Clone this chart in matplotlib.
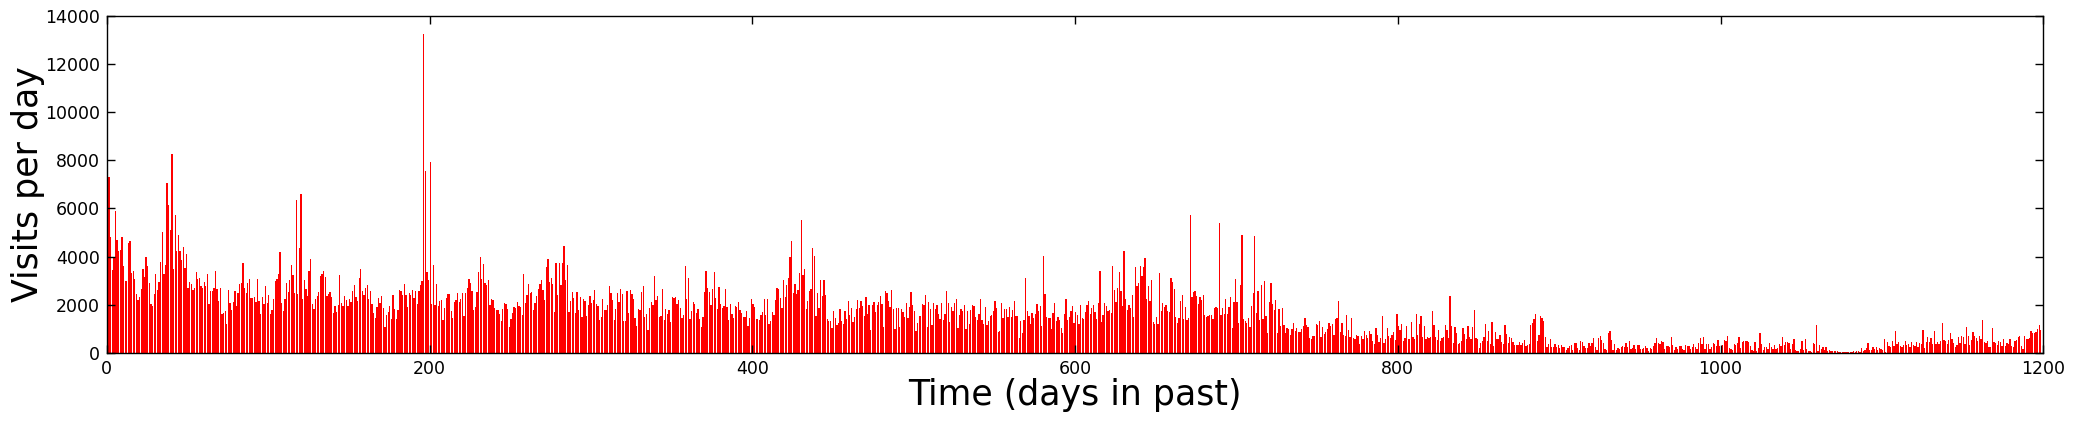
import numpy as np
import matplotlib
matplotlib.use("Agg")
import matplotlib.pyplot as plt

# ============================================================================
# Visits per day in blocks (day 0 = today)
# ============================================================================
visits_0000 = [4230, 7300, 4800, 3450, 4000, 5900, 4680, 4230, 4290, 4800,
               3600, 3000, 3000, 4570, 4640, 3300, 3400, 3070, 2440, 2200,
               2300, 2650, 3470, 3140, 3970, 3600, 2890, 2020, 1950, 2440,
               3270, 2600, 2930, 3760, 5020, 3270, 3640, 7060, 6150, 5090,
               8280, 3490, 5720, 4230, 4890, 4230, 3850, 4390, 3530, 4100,
               2700, 2930, 2860, 2620, 2700, 3350, 3060, 3100, 2770, 2690,
               2930, 2770, 3270, 2020, 2560, 2560, 2670, 3390, 2640, 2150,
               2690, 1600, 1660, 1730, 1190, 2600, 2060, 1790, 2100, 2560,
               1950, 2480, 2850, 2910, 3720, 2690, 2480, 2890, 3070, 2270,
               2270, 2310, 2100, 3070, 2150, 1590, 2310, 2020]

visits_0098 = [2770, 2080, 2390, 1600, 1770, 2230, 2980, 3060, 3270, 4180,
               2060, 1730, 2230, 2880, 2520, 3020, 3640, 3220, 2480, 6340,
               2440, 4350, 6600, 2230, 3020, 2640, 2350, 3390, 3890, 2020,
               1810, 2230, 2350, 2520, 3180, 3270, 3390, 3140, 2350, 2440,
               2520, 2310, 1650, 1940, 1690, 1980, 3220, 2060, 1940, 2350,
               2190, 1940, 2230, 2100, 2560, 2810, 2310, 2150, 3100, 3470,
               2560, 2390, 2690, 2810, 2230, 2560, 2020, 1650, 1440, 1900,
               2270, 2060, 2350, 1850, 1070, 1560, 1690, 1940, 1400, 2390,
               1810, 1400, 1770, 2600, 2560, 2390, 2850, 2390, 1900, 2480,
               2390, 2600, 2270, 2560, 2020, 2560, 2810, 2980]

visits_0196 = [13270, 7540, 3350, 3020, 7920, 2020, 3640, 1980, 2850, 1940,
               2150, 2190, 1360, 1850, 2270, 2440, 2440, 1730, 1440, 2100,
               2190, 2480, 2100, 2230, 2480, 1520, 2480, 2690, 3060, 2890,
               2560, 1770, 1900, 2520, 3350, 3970, 3060, 3680, 2890, 2810,
               3020, 1980, 2230, 2190, 1850, 1770, 1770, 1600, 1310, 1810,
               2060, 2020, 1810, 1070, 1400, 1650, 1900, 1850, 2100, 1940,
               1900, 1560, 3270, 2060, 2390, 2850, 2480, 2520, 1770, 2060,
               2350, 2640, 2850, 3020, 2600, 2190, 3560, 3890, 2930, 3100,
               2850, 1690, 3720, 2390, 3720, 2810, 3720, 4430, 3020, 3640,
               1690, 2150, 2520, 2270, 1650, 2520, 1770, 2310, 1480, 2230,
               2150, 1520, 1980]

visits_0299 = [2350, 2060, 2190, 2600, 2020, 1940, 1360, 1500, 2230, 1770,
               1770, 2000, 2770, 2480, 2190, 1360, 1810, 2480, 2100, 2640,
               2440, 1310, 1310, 2560, 1650, 2600, 2440, 2230, 1440, 1110,
               1810, 1770, 2520, 2770, 1480, 1600, 940, 1850, 2100, 1980,
               3180, 2190, 2350, 1480, 1520, 2640, 1360, 1810, 1600, 1770,
               1270, 2310, 2270, 2310, 2020, 2190, 1850, 1440, 1560, 3600,
               2230, 3100, 1400, 1730, 2100, 2020, 1650, 1810, 1400, 1070,
               1480, 2520, 3390, 2690, 2520, 1980, 2640, 3350, 2270, 1810,
               2730, 2020, 1850, 1940, 2640, 1900, 1360, 2020, 1600, 1440,
               1940, 1900, 2100, 1770, 1650, 1480, 1480, 1730, 1110, 1440,
               2230]

visits_0400 = [2020, 1900, 1400, 1400, 1360, 1560, 1690, 2230, 1560, 2230,
               1190, 1310, 1690, 1560, 2190, 2690, 2640, 2270, 1850, 3020,
               2310, 2810, 3100, 3970, 4640, 2480, 2850, 2440, 2600, 3310,
               5510, 3220, 3470, 1810, 2150, 2560, 2640, 4350, 4010, 1520,
               2480, 1850, 3020, 2350, 3020, 2390, 1400, 1310, 1310, 1020,
               1730, 1440, 1150, 1230, 1810, 1310, 1190, 1730, 1400, 2150,
               1560, 1850, 1270, 1480, 1810, 2190, 1850, 2150, 1940, 1520,
               2310, 1600, 1980, 940, 1980, 2100, 1690, 1980, 2100, 2350,
               2020, 1070, 2560, 2480, 2150, 1900, 2600, 1810, 980, 1850,
               1850, 1070, 1810, 1690, 1480, 2060, 1440, 1900, 2520, 1980]

visits_0500 = [1730, 900, 1230, 1520, 1520, 2020, 1980, 2390, 1070, 2100,
               1810, 1150, 2060, 1810, 1980, 1600, 1400, 2060, 1360, 1600,
               2560, 2060, 1270, 1900, 1730, 2060, 2230, 1020, 1560, 1810,
               1730, 1980, 980, 1730, 1190, 1770, 1980, 1940, 1480, 1360,
               1600, 2230, 1360, 1190, 1900, 1150, 1310, 1520, 1560, 1730,
               2150, 1850, 860, 900, 2060, 1440, 1810, 1810, 1480, 1900,
               1480, 1770, 2150, 1520, 1520, 610, 1310, 820, 1360, 3100,
               1730, 1520, 1190, 1650, 1440, 1600, 2020, 1730, 1940, 1110,
               4010, 2440, 1480, 1440, 1440, 980, 1650, 2060, 1310, 1480,
               1360, 1020, 820, 1600, 2230, 1360, 1480, 1730, 1940, 1230]

visits_0600 = [1690, 1560, 1190, 1980, 1440, 1400, 1690, 1980, 2150, 1600,
               1850, 1980, 1690, 1400, 2060, 3390, 1270, 1560, 2060, 1940,
               1730, 1770, 1650, 3600, 2600, 2100, 2690, 3350, 2560, 1940,
               4220, 2230, 1770, 1980, 1850, 2390, 1480, 3560, 2770, 2890,
               3600, 3180, 3560, 3930, 2230, 2770, 2150, 3020, 1270, 1190,
               1480, 1190, 3310, 1730, 2060, 1900, 1980, 1730, 1690, 3100,
               2930, 2640, 1480, 1230, 1440, 2150, 2390, 1400, 1900, 1360,
               1440, 5720, 2310, 2520, 2560, 2350, 2020, 2310, 2190, 2390,
               1560, 1480, 1520, 1560, 1560, 1400, 1850, 1900, 1850, 5380,
               1560, 1850, 1600, 2230, 1600, 1900, 2310, 1020, 2100, 3060]

visits_0700 = [2100, 1230, 2810, 4890, 1400, 1310, 1230, 1440, 1070, 1940,
               2480, 4840, 1650, 2560, 1360, 2810, 1400, 2980, 1520, 820,
               2100, 2890, 2020, 1770, 2190, 820, 1810, 1110, 1850, 1150,
               820, 1020, 980, 730, 980, 1230, 900, 1020, 860, 860,
               980, 1110, 1440, 1150, 1070, 610, 570, 690, 690, 1190,
               1150, 1310, 650, 1070, 780, 860, 980, 1230, 1110, 1190,
               730, 1400, 1440, 2150, 860, 1230, 730, 690, 1560, 940,
               650, 1440, 610, 570, 730, 690, 360, 690, 570, 900,
               730, 610, 900, 780, 480, 360, 1020, 730, 440, 610,
               1520, 400, 570, 1020, 690, 610, 730, 860, 530, 1600,
               1110]

visits_0801 = [940, 1190, 480, 610, 1110, 570, 570, 1270, 650, 570,
               1600, 730, 1190, 1520, 650, 1110, 570, 650, 610, 650,
               1730, 1150, 650, 530, 940, 480, 610, 650, 1150, 940,
               610, 2350, 1110, 400, 1070, 820, 360, 400, 480, 1020,
               780, 570, 1110, 650, 570, 1070, 1770, 610, 570, 190,
               400, 480, 650, 1190, 480, 900, 360, 1270, 280, 860,
               570, 570, 730, 440, 360, 1150, 780, 400, 650, 610,
               440, 320, 320, 320, 440, 320, 400, 530, 280, 320,
               360, 1150, 1230, 1400, 1600, 480, 730, 1520, 1440, 1310,
               650, 240, 360, 570, 240, 240, 360, 240, 320]

visits_0900 = [210, 320, 240, 240, 100, 190, 280, 320, 100, 400,
               400, 190, 100, 480, 440, 280, 190, 190, 400, 280,
               400, 610, 240, 100, 610, 690, 530, 400, 150, 100,
               820, 900, 530, 100, 350, 100, 190, 150, 240, 280,
               240, 400, 240, 480, 150, 190, 320, 150, 320, 320,
               150, 150, 190, 280, 190, 80, 190, 150, 280, 400,
               610, 400, 360, 480, 440, 150, 280, 280, 240, 650,
               320, 110, 240, 150, 280, 280, 150, 110, 320, 280,
               280, 150, 240, 360, 240, 150, 400, 610, 360, 650,
               150, 360, 360, 150, 240, 400, 360, 280, 530, 280]

visits_1000 = [190, 320, 530, 480, 690, 210, 150, 110, 360, 320,
               400, 650, 190, 440, 480, 480, 480, 440, 280, 110,
               55, 440, 80, 190, 820, 360, 110, 240, 240, 150,
               400, 240, 150, 320, 150, 190, 360, 280, 650, 320,
               440, 440, 390, 150, 360, 570, 110, 80, 80, 150,
               480, 110, 570, 150, 80, 80, 40, 400, 360, 1150,
               80, 320, 150, 240, 110, 240, 80, 110, 80, 80,
               55, 80, 55, 40, 28, 40, 28, 40, 40, 28,
               40, 28, 55, 40, 80, 55, 40, 190, 55, 110,
               190, 400, 110, 110, 240, 150, 240, 110, 190, 150,
               110, 570]

visits_1102 = [30, 440, 280, 220, 480, 280, 900, 360, 440, 280,
               240, 320, 480, 320, 360, 240, 440, 320, 280, 440,
               240, 400, 360, 940, 190, 440, 650, 440, 610, 360,
               900, 360, 440, 360, 480, 1230, 530, 480, 360, 530,
               820, 570, 400, 240, 320, 650, 400, 690, 650, 360,
               1070, 690, 320, 530, 860, 690, 610, 480, 690, 570,
               1360, 440, 400, 480, 240, 240, 1020, 440, 400, 320,
               480, 440, 280, 570, 280, 400, 360, 570, 280, 240,
               480, 530, 650, 690, 280, 150, 690, 570, 570, 610,
               900, 820, 820, 860, 980, 1150, 940]

visits = np.concatenate([visits_0000, visits_0098, visits_0196, visits_0299,
                         visits_0400, visits_0500, visits_0600, visits_0700,
                         visits_0801, visits_0900, visits_1000, visits_1102])
days = np.arange(len(visits))

# ============================================================================
# Plot
# ============================================================================
fig = plt.figure(figsize=(20.73, 4.22), dpi=100)
ax = fig.add_axes([0.0515, 0.1642, 0.9342, 0.7979])

ax.bar(days, visits, width=0.8, align="edge", color="red",
       linewidth=0, antialiased=False)

ax.set_xlim(0, 1200)
ax.set_ylim(0, 14000)
ax.set_xticks(np.arange(0, 1201, 200))
ax.set_yticks(np.arange(0, 14001, 2000))
ax.tick_params(direction="in", top=True, right=True, length=6, width=1,
               labelsize=12.5, pad=5)
for s in ax.spines.values():
    s.set_linewidth(1.0)

ax.set_xlabel("Time (days in past)", fontsize=25, labelpad=0)
ax.set_ylabel("Visits per day", fontsize=25, labelpad=0)

fig.savefig("out.png", dpi=100, facecolor="white")
